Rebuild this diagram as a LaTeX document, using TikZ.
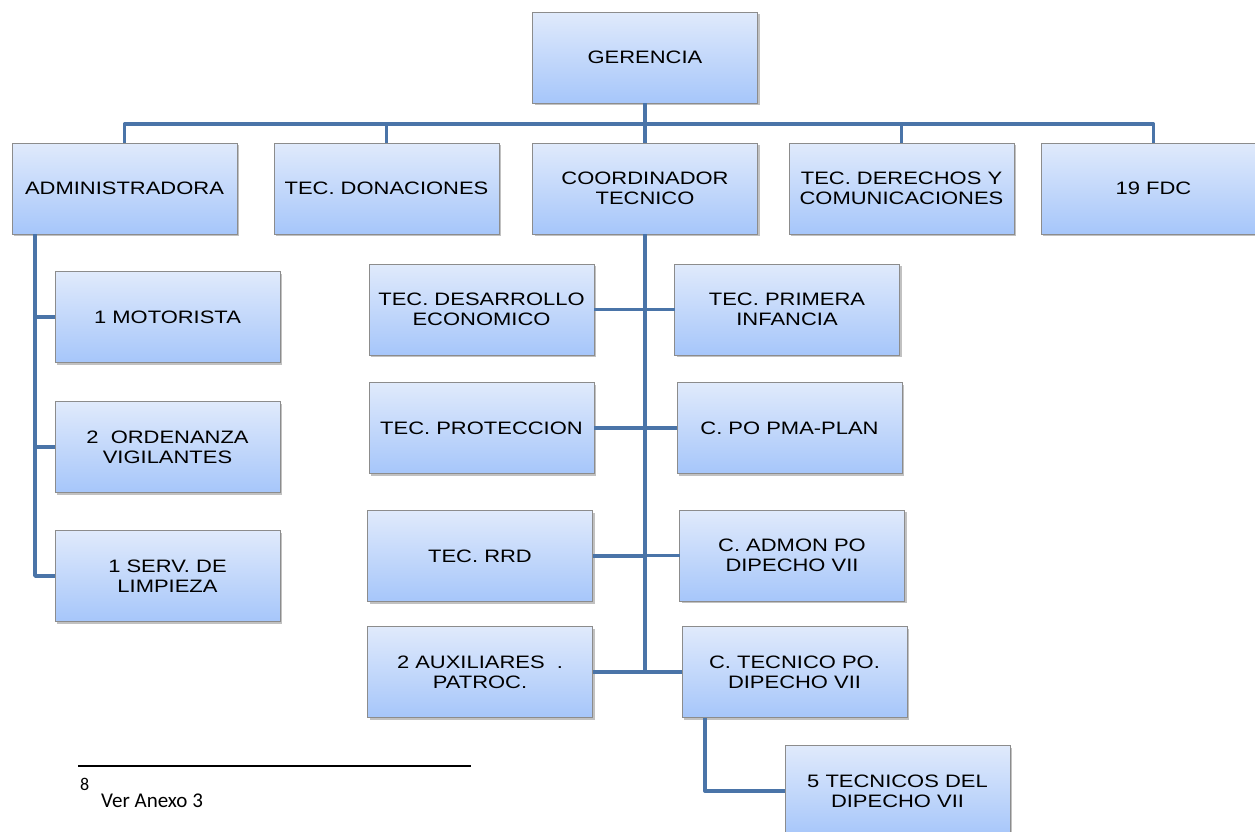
\documentclass[tikz,border=0pt]{standalone}
\usepackage{fontspec}
\setmainfont{Liberation Sans}[FakeStretch=1.22]
\newfontfamily\calfont{Carlito}
\usetikzlibrary{shadows}
\definecolor{conn}{HTML}{4A74A8}
\definecolor{boxtop}{HTML}{E0EAFB}
\definecolor{boxbot}{HTML}{A6C6FA}
\definecolor{boxline}{HTML}{8C8C8C}
\tikzset{
 orgbox/.style={draw=boxline, line width=0.8pt, top color=boxtop, bottom color=boxbot,
   minimum width=225pt, minimum height=91pt, inner sep=2pt, outer sep=0pt, align=center,
   font=\fontsize{18}{20}\selectfont,
   drop shadow={shadow xshift=2pt, shadow yshift=-2pt, opacity=0.35, fill=black!70}},
 link/.style={draw=conn, line width=3.8pt, line join=round},
}
\begin{document}
\begin{tikzpicture}[x=1pt,y=-1pt]
\useasboundingbox (0,0) rectangle (1255,831);
\clip (0,0) rectangle (1255,831);
% top level
\node[orgbox] (ger) at (645,57.5) {GERENCIA};
\node[orgbox] (adm) at (124.5,188.5) {ADMINISTRADORA};
\node[orgbox] (don) at (386.5,188.5) {TEC. DONACIONES};
\node[orgbox] (coo) at (645,188.5) {COORDINADOR\\TECNICO};
\node[orgbox] (der) at (901.5,188.5) {TEC. DERECHOS Y\\COMUNICACIONES};
\node[orgbox] (fdc) at (1153.5,188.5) {19 FDC};
% administration
\node[orgbox] (mot) at (167.5,317) {1 MOTORISTA};
\node[orgbox] (ord) at (167.5,447) {2\ \ ORDENANZA\\VIGILANTES};
\node[orgbox] (srv) at (167.5,576) {1 SERV. DE\\LIMPIEZA};
% coordination
\node[orgbox] (dese) at (481.5,309.5) {TEC. DESARROLLO\\ECONOMICO};
\node[orgbox] (prim) at (787,309.5) {TEC. PRIMERA\\INFANCIA};
\node[orgbox] (prot) at (481.5,428) {TEC. PROTECCION};
\node[orgbox] (pma) at (789.5,428) {C. PO PMA-PLAN};
\node[orgbox] (rrd) at (480,556) {TEC. RRD};
\node[orgbox] (admon) at (792,555.5) {C. ADMON PO\\DIPECHO VII};
\node[orgbox] (aux) at (480,672) {2 AUXILIARES\ \ .\\PATROC.};
\node[orgbox] (ctec) at (794.5,672) {C. TECNICO PO.\\DIPECHO VII};
\node[orgbox] (tec5) at (897.5,791) {5 TECNICOS DEL\\DIPECHO VII};
% connectors
\coordinate (bus) at (0,124);
\draw[link] (ger.south) -- (coo.north);
\draw[link] (adm.north) -- (adm.north |- bus) -- (fdc.north |- bus) -- (fdc.north);
\draw[link] (don.north) -- (don.north |- bus);
\draw[link] (der.north) -- (der.north |- bus);
\coordinate (a0) at ([xshift=23pt]adm.south west);
\draw[link] (a0) |- (srv.west);
\draw[link] (mot.west) -- (mot.west -| a0);
\draw[link] (ord.west) -- (ord.west -| a0);
\draw[link] (coo.south) -- (ctec.west -| coo.south);
\draw[link] (dese.east) -- (prim.west);
\draw[link] (prot.east) -- (pma.west);
\draw[link] (rrd.east) -- (rrd.east -| coo.south);
\draw[link] (admon.west) -- (admon.west -| coo.south);
\draw[link] (aux.east) -- (aux.east -| coo.south);
\draw[link] (ctec.west) -- (ctec.west -| coo.south);
\draw[link] ([xshift=23pt]ctec.south west) |- (tec5.west);
% footnote
\coordinate (fl) at (78,766);
\coordinate (fr) at (471,766);
\draw[line width=1.6pt] (fl) -- (fr);
\node[anchor=base west, inner sep=0pt, font=\calfont\fontsize{18}{18}\selectfont] (fnm) at (80,790) {8};
\node[anchor=base west, inner sep=0pt, font=\calfont\fontsize{21}{21}\selectfont] (fn) at (101,807) {Ver Anexo 3};
\end{tikzpicture}
\end{document}
